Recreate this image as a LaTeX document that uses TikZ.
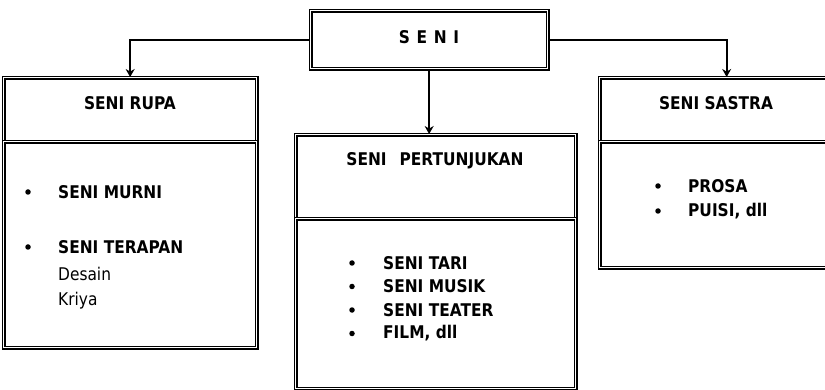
\documentclass[tikz,border=0pt]{standalone}
\usepackage{fontspec}
\setmainfont{DejaVu Sans}[FakeStretch=0.88]
\usetikzlibrary{arrows.meta}
\tikzset{
  dbox/.style={draw=black, line width=1.3pt, double=white, double distance=1.5pt, inner sep=0pt, anchor=north west},
  lbl/.style={inner sep=0pt, font=\bfseries\fontsize{17.5}{21}\selectfont},
  itm/.style={inner sep=0pt, anchor=west, font=\bfseries\fontsize{17.5}{21}\selectfont},
  sub/.style={inner sep=0pt, anchor=west, font=\fontsize{17.5}{21}\selectfont},
  bul/.style={circle, fill=black, inner sep=0pt, minimum size=5.5pt},
  conn/.style={line width=2.2pt, -{Stealth[length=8pt,width=9pt]}}
}
\begin{document}
\begin{tikzpicture}[x=1pt,y=-1pt]
\useasboundingbox (0,0) rectangle (825,390);
\clip (0,0) rectangle (825,390);
% top
\node[dbox, minimum width=237pt, minimum height=58pt] (seni) at (310,10) {};
\node[lbl, font=\bfseries\fontsize{17.5}{21}\selectfont\addfontfeatures{LetterSpace=38}] (seniT) at (429,37) {SENI};
% left column
\node[dbox, minimum width=253pt, minimum height=64pt] (rupaH) at (3,77) {};
\node[dbox, minimum width=253pt, minimum height=206pt] (rupaB) at (3,141) {};
\node[lbl] (rupaT) at (130,103) {SENI RUPA};
\node[bul] (b1) at (28,192) {};
\node[itm] (i1) at (58,192) {SENI MURNI};
\node[bul] (b2) at (28,247) {};
\node[itm] (i2) at (58,247) {SENI TERAPAN};
\node[sub] (i3) at (58,274) {Desain};
\node[sub] (i4) at (58,301) {Kriya};
% middle column
\node[dbox, minimum width=280pt, minimum height=84pt] (pertH) at (295,134) {};
\node[dbox, minimum width=280pt, minimum height=170pt] (pertB) at (295,218) {};
\node[lbl] (pertT) at (435,161) {SENI\hspace{13pt}PERTUNJUKAN};
\node[bul] (b3) at (352,263) {};
\node[itm] (i5) at (383,263) {SENI TARI};
\node[bul] (b4) at (352,286.5) {};
\node[itm] (i6) at (383,286.5) {SENI MUSIK};
\node[bul] (b5) at (352,310) {};
\node[itm] (i7) at (383,310) {SENI TEATER};
\node[bul] (b6) at (352,333.5) {};
\node[itm] (i8) at (383,333.5) {FILM, dll};
% right column
\node[dbox, minimum width=254pt, minimum height=64pt] (sastraH) at (599,77) {};
\node[dbox, minimum width=254pt, minimum height=126pt] (sastraB) at (599,141) {};
\node[lbl] (sastraT) at (716,103) {SENI SASTRA};
\node[bul] (b7) at (658,186) {};
\node[itm] (i9) at (688,186) {PROSA};
\node[bul] (b8) at (658,211) {};
\node[itm] (i10) at (688,211) {PUISI, dll};
% connectors
\draw[conn] (seni.west) -| (rupaH.north);
\draw[conn] (seni.east) -| (sastraH.north);
\draw[conn] (seni.south) -- (seni.south |- pertH.north);
\end{tikzpicture}
\end{document}
